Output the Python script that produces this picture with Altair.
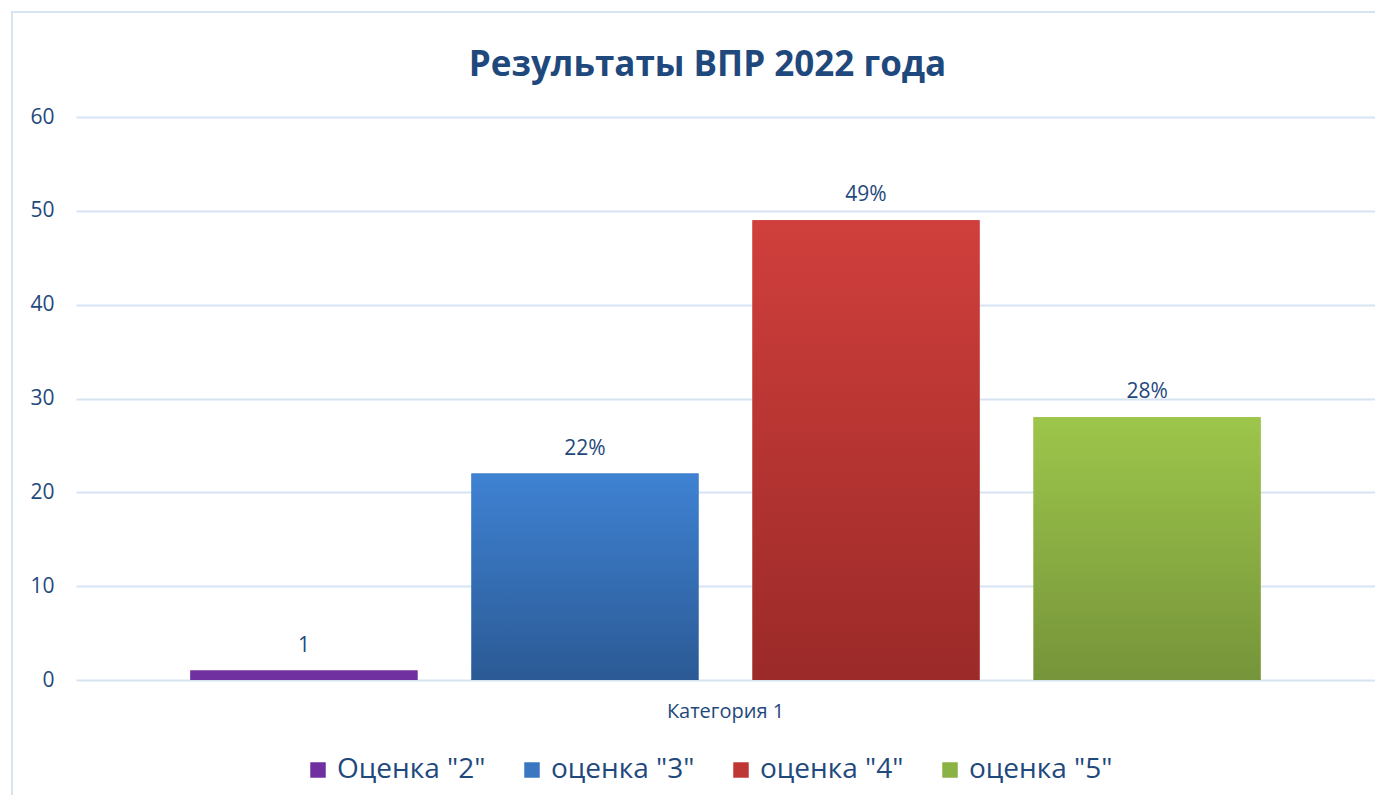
import altair as alt
import pandas as pd

category = "Категория 1"
series = ['Оценка "2"', 'оценка "3"', 'оценка "4"', 'оценка "5"']
values = [1, 22, 49, 28]
labels = ["1", "22%", "49%", "28%"]
top_colors = ["#7030A0", "#3F82D3", "#D03F3C", "#9DC64B"]
bottom_colors = ["#7030A0", "#2B5A95", "#9B2A28", "#76943A"]
legend_colors = ["#7030A0", "#3A76C2", "#BE3735", "#8BB245"]

df = pd.DataFrame({
    "cat": [category] * len(series),
    "series": series,
    "value": values,
    "label": labels,
})

FONT = "Open Sans"
TXT = "#1F497D"
GRID = "#D6E3F3"

x_enc = alt.X("cat:N", title=None,
              scale=alt.Scale(paddingInner=0, paddingOuter=0),
              axis=alt.Axis(labelAngle=0, domain=False, ticks=False, labelPadding=21,
                            labelFontSize=20, labelColor=TXT, labelFont=FONT))
xoff = alt.XOffset("series:N", sort=series,
                   scale=alt.Scale(paddingInner=0.192, paddingOuter=0.407))
y_enc = alt.Y("value:Q", title=None,
              scale=alt.Scale(domain=[0, 60], nice=False),
              axis=alt.Axis(values=[0, 10, 20, 30, 40, 50, 60], domain=False, ticks=False,
                            labelPadding=22, labelFontSize=21, labelColor=TXT, labelFont=FONT,
                            gridColor=GRID, gridWidth=2))

base = alt.Chart(df).mark_bar().encode(
    x=x_enc, xOffset=xoff, y=y_enc,
    color=alt.Color("series:N", sort=series,
                    scale=alt.Scale(domain=series, range=legend_colors),
                    legend=alt.Legend(title=None, orient="none", direction="horizontal",
                                      legendX=228, legendY=639,
                                      symbolType="square", symbolSize=240,
                                      symbolStrokeWidth=0, labelFontSize=28,
                                      labelFont=FONT, labelColor=TXT,
                                      labelOffset=5, columnPadding=32)),
)

layers = [base]
for s, t, b in zip(series, top_colors, bottom_colors):
    layers.append(
        alt.Chart(df).transform_filter(alt.datum.series == s).mark_bar(
            color=alt.Gradient(gradient="linear", x1=0, x2=0, y1=0, y2=1,
                               stops=[alt.GradientStop(color=t, offset=0),
                                      alt.GradientStop(color=b, offset=1)])
        ).encode(x=x_enc, xOffset=xoff, y=y_enc)
    )

text = alt.Chart(df).mark_text(baseline="bottom", dy=-15, fontSize=21,
                               font=FONT, color=TXT).encode(
    x=x_enc, xOffset=xoff, y=y_enc, text="label:N")
layers.append(text)

frame = alt.Chart(df).mark_rect(fill=None, stroke="#D6E3F3", strokeWidth=2, clip=False).encode(
    x=alt.value(-64), x2=alt.value(1320), y=alt.value(-105), y2=alt.value(720))

chart = alt.layer(frame, *layers).properties(
    width=1299, height=563,
    padding={"left": 68, "top": 109, "right": 0, "bottom": 115},
    autosize=alt.AutoSizeParams(type="none"),
    title=alt.Title("Результаты ВПР 2022 года", fontSize=35, font=FONT, fontWeight="bold",
                    color=TXT, offset=0, dy=72, dx=-18, anchor="middle"),
).configure_view(stroke=None)

chart.save("out.html", embed_options={"renderer": "svg", "actions": False})
